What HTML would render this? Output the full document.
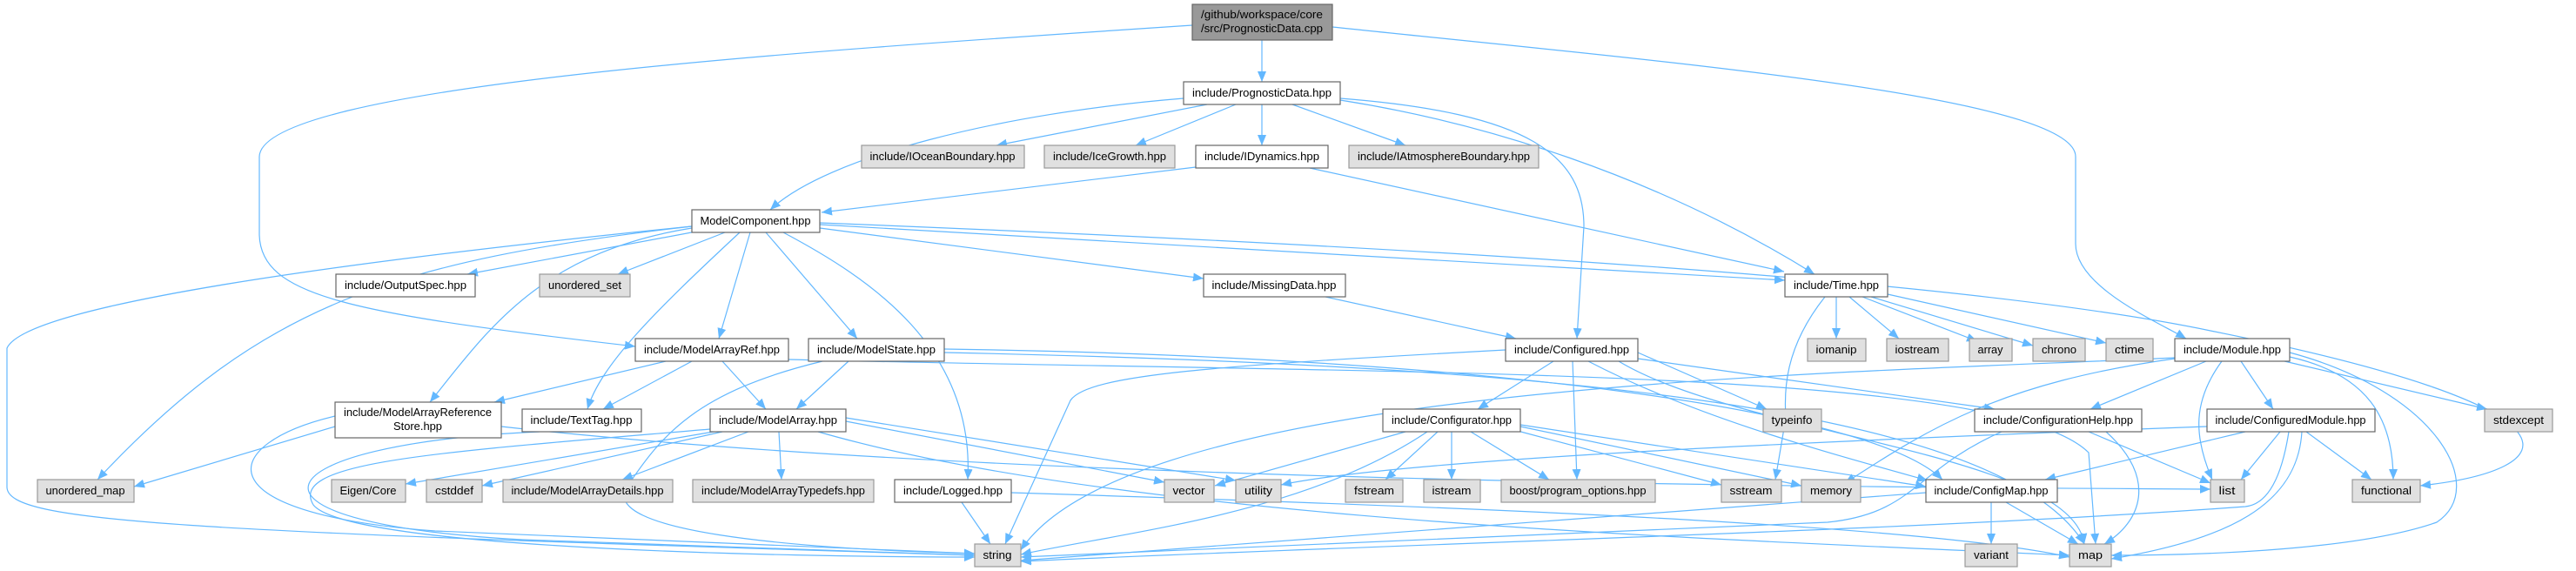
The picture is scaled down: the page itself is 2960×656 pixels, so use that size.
<!DOCTYPE html>
<html><head><meta charset="utf-8"><style>
html,body{margin:0;padding:0;background:#fff;}
svg{display:block;}
text{font-family:"Liberation Sans",Arial,sans-serif;font-size:12.5px;fill:#000;}
.w{fill:#fff;stroke:#666;stroke-width:1.2;}
.g{fill:#e0e0e0;stroke:#999;stroke-width:1.2;}
.d{fill:#999;stroke:#666;stroke-width:1.2;}
.e path{fill:none;stroke:#63b8ff;stroke-width:1.2;marker-end:url(#a);}
</style></head><body>
<svg width="2960" height="656" viewBox="0 0 2960 656" xmlns="http://www.w3.org/2000/svg">
<defs><marker id="a" markerUnits="userSpaceOnUse" markerWidth="12" markerHeight="10" refX="12" refY="5" orient="auto"><path d="M0,0 L12,5 L0,10 z" fill="#63b8ff"/></marker></defs>
<g class="e">
<path d="M1450 46 L1450 94"/>
<path d="M1370 29 C900 60,300 100,298 180 L298 270 C300 340,400 360,730 398"/>
<path d="M1531 31 C1900 70,2385 110,2385 180 L2385 280 C2385 330,2480 370,2512 389"/>
<path d="M1360 113 C1150 130,950 180,885 241"/>
<path d="M1387 120 L1145 167"/>
<path d="M1420 120 L1305 167"/>
<path d="M1450 120 L1450 167"/>
<path d="M1485 120 L1615 167"/>
<path d="M1540 113 C1760 130,1820 180,1820 260 L1812 389"/>
<path d="M1540 115 C1700 140,1900 200,2085 315"/>
<path d="M1374 192 L944 244"/>
<path d="M1505 193 L2050 312"/>
<path d="M800 266 L537 315"/>
<path d="M833 267 L710 315"/>
<path d="M862 267 L826 389"/>
<path d="M880 267 L985 389"/>
<path d="M850 267 C750 360,690 420,675 470"/>
<path d="M795 262 C620 290,560 380,494 462"/>
<path d="M795 260 C450 300,300 350,112 551"/>
<path d="M795 260 C400 300,30 350,8 400 L8 560 C10 600,200 610,1120 638"/>
<path d="M900 267 C1000 320,1120 400,1112 551"/>
<path d="M942 262 L1383 320"/>
<path d="M942 258 L2051 322"/>
<path d="M942 256 C1800 290,2300 330,2540 380 C2990 470,2950 540,2781 558"/>
<path d="M1523 341 L1742 389"/>
<path d="M765 415 L568 462"/>
<path d="M795 415 L693 470"/>
<path d="M830 415 L880 470"/>
<path d="M906 413 C1600 430,2300 420,2400 520 L2408 625"/>
<path d="M975 415 L915 470"/>
<path d="M945 415 C800 450,760 500,720 560 C690 610,900 630,1120 636"/>
<path d="M1085 401 C1700 410,2150 470,2232 551"/>
<path d="M1085 405 C1800 420,2300 470,2395 625"/>
<path d="M820 496 L466 556"/>
<path d="M830 496 L554 558"/>
<path d="M860 496 L715 551"/>
<path d="M895 496 L898 551"/>
<path d="M816 493 C500 520,330 530,360 580 C400 630,900 640,1120 640"/>
<path d="M972 484 L1338 554"/>
<path d="M972 480 L1420 552"/>
<path d="M940 496 C1300 600,2000 620,2378 638"/>
<path d="M576 490 C1200 560,2300 560,2540 562"/>
<path d="M385 490 L154 559"/>
<path d="M385 478 C250 510,230 590,500 610 L1120 636"/>
<path d="M620 496 C300 510,240 600,600 620 L1120 638"/>
<path d="M1105 577 L1138 625"/>
<path d="M1162 566 C1600 580,2200 600,2378 640"/>
<path d="M1785 415 L1698 470"/>
<path d="M1730 402 C1400 420,1250 430,1230 460 L1155 625"/>
<path d="M1807 415 L1812 551"/>
<path d="M1882 405 L2030 470"/>
<path d="M1882 412 L2292 470"/>
<path d="M1825 415 C1950 480,2100 520,2215 552"/>
<path d="M1860 415 C2000 500,2380 520,2395 625"/>
<path d="M1615 496 L1396 558"/>
<path d="M1652 496 L1592 551"/>
<path d="M1668 496 L1668 551"/>
<path d="M1690 496 L1780 551"/>
<path d="M1740 494 L1978 557"/>
<path d="M1747 490 L2070 558"/>
<path d="M1747 488 L2213 559"/>
<path d="M1640 496 C1500 590,1300 610,1173 637"/>
<path d="M2536 490 C2000 510,1600 530,1472 557"/>
<path d="M2110 341 L2110 389"/>
<path d="M2125 341 L2182 389"/>
<path d="M2140 341 L2272 392"/>
<path d="M2150 341 L2336 397"/>
<path d="M2169 338 L2420 394"/>
<path d="M2097 341 C2050 400,2050 450,2052 480 L2040 551"/>
<path d="M2535 415 L2402 470"/>
<path d="M2575 415 L2612 470"/>
<path d="M2553 415 C2520 460,2520 500,2542 551"/>
<path d="M2631 410 C2720 430,2750 480,2750 551"/>
<path d="M2631 405 C2800 450,2860 560,2800 600 C2700 635,2500 638,2426 638"/>
<path d="M2625 415 L2858 470"/>
<path d="M2499 412 C2300 440,2220 490,2120 555"/>
<path d="M2499 411 C2100 430,1300 440,1173 632"/>
<path d="M2400 496 L2540 555"/>
<path d="M2420 496 C2480 550,2460 600,2418 625"/>
<path d="M2300 496 C2200 540,2200 590,2100 600 L1173 640"/>
<path d="M2580 496 L2350 551"/>
<path d="M2620 496 L2575 551"/>
<path d="M2650 496 L2725 551"/>
<path d="M2645 496 C2640 580,2560 620,2426 642"/>
<path d="M2630 496 C2620 560,2600 580,2580 582 C2200 610,1600 625,1173 645"/>
<path d="M2288 577 L2288 625"/>
<path d="M2305 577 L2388 625"/>
<path d="M2213 566 L1173 644"/>
</g>
<g>
<rect class="d" x="1370" y="5" width="161" height="41"/>
<text x="1450" y="21" text-anchor="middle" textLength="140" lengthAdjust="spacingAndGlyphs">/github/workspace/core</text>
<text x="1450" y="37" text-anchor="middle" textLength="140" lengthAdjust="spacingAndGlyphs">/src/PrognosticData.cpp</text>
<rect class="w" x="1360" y="94" width="180" height="26"/><text x="1450" y="111" text-anchor="middle" textLength="160" lengthAdjust="spacingAndGlyphs">include/PrognosticData.hpp</text>
<rect class="g" x="990" y="167" width="187" height="26"/><text x="1083" y="184" text-anchor="middle" textLength="167" lengthAdjust="spacingAndGlyphs">include/IOceanBoundary.hpp</text>
<rect class="g" x="1200" y="167" width="150" height="26"/><text x="1275" y="184" text-anchor="middle" textLength="130" lengthAdjust="spacingAndGlyphs">include/IceGrowth.hpp</text>
<rect class="w" x="1374" y="167" width="152" height="26"/><text x="1450" y="184" text-anchor="middle" textLength="132" lengthAdjust="spacingAndGlyphs">include/IDynamics.hpp</text>
<rect class="g" x="1550" y="167" width="218" height="26"/><text x="1659" y="184" text-anchor="middle" textLength="198" lengthAdjust="spacingAndGlyphs">include/IAtmosphereBoundary.hpp</text>
<rect class="w" x="795" y="241" width="147" height="26"/><text x="868" y="258" text-anchor="middle" textLength="127" lengthAdjust="spacingAndGlyphs">ModelComponent.hpp</text>
<rect class="w" x="386" y="315" width="160" height="26"/><text x="466" y="332" text-anchor="middle" textLength="140" lengthAdjust="spacingAndGlyphs">include/OutputSpec.hpp</text>
<rect class="g" x="620" y="315" width="104" height="26"/><text x="672" y="332" text-anchor="middle" textLength="84" lengthAdjust="spacingAndGlyphs">unordered_set</text>
<rect class="w" x="1383" y="315" width="163" height="26"/><text x="1464" y="332" text-anchor="middle" textLength="143" lengthAdjust="spacingAndGlyphs">include/MissingData.hpp</text>
<rect class="w" x="2051" y="315" width="118" height="26"/><text x="2110" y="332" text-anchor="middle" textLength="98" lengthAdjust="spacingAndGlyphs">include/Time.hpp</text>
<rect class="w" x="730" y="389" width="176" height="26"/><text x="818" y="406" text-anchor="middle" textLength="156" lengthAdjust="spacingAndGlyphs">include/ModelArrayRef.hpp</text>
<rect class="w" x="929" y="389" width="156" height="26"/><text x="1007" y="406" text-anchor="middle" textLength="136" lengthAdjust="spacingAndGlyphs">include/ModelState.hpp</text>
<rect class="w" x="1730" y="389" width="152" height="26"/><text x="1806" y="406" text-anchor="middle" textLength="132" lengthAdjust="spacingAndGlyphs">include/Configured.hpp</text>
<rect class="g" x="2077" y="389" width="67" height="26"/><text x="2110" y="406" text-anchor="middle" textLength="47" lengthAdjust="spacingAndGlyphs">iomanip</text>
<rect class="g" x="2168" y="389" width="71" height="26"/><text x="2203" y="406" text-anchor="middle" textLength="51" lengthAdjust="spacingAndGlyphs">iostream</text>
<rect class="g" x="2263" y="389" width="49" height="26"/><text x="2287" y="406" text-anchor="middle" textLength="29" lengthAdjust="spacingAndGlyphs">array</text>
<rect class="g" x="2336" y="389" width="60" height="26"/><text x="2366" y="406" text-anchor="middle" textLength="40" lengthAdjust="spacingAndGlyphs">chrono</text>
<rect class="g" x="2420" y="389" width="54" height="26"/><text x="2447" y="406" text-anchor="middle" textLength="34" lengthAdjust="spacingAndGlyphs">ctime</text>
<rect class="w" x="2499" y="389" width="132" height="26"/><text x="2565" y="406" text-anchor="middle" textLength="112" lengthAdjust="spacingAndGlyphs">include/Module.hpp</text>
<rect class="w" x="385" y="462" width="191" height="41"/>
<text x="480" y="478" text-anchor="middle" textLength="170" lengthAdjust="spacingAndGlyphs">include/ModelArrayReference</text>
<text x="480" y="494" text-anchor="middle" textLength="56" lengthAdjust="spacingAndGlyphs">Store.hpp</text>
<rect class="w" x="600" y="470" width="137" height="26"/><text x="668" y="487" text-anchor="middle" textLength="117" lengthAdjust="spacingAndGlyphs">include/TextTag.hpp</text>
<rect class="w" x="816" y="470" width="156" height="26"/><text x="894" y="487" text-anchor="middle" textLength="136" lengthAdjust="spacingAndGlyphs">include/ModelArray.hpp</text>
<rect class="w" x="1589" y="470" width="158" height="26"/><text x="1668" y="487" text-anchor="middle" textLength="138" lengthAdjust="spacingAndGlyphs">include/Configurator.hpp</text>
<rect class="g" x="2026" y="470" width="67" height="26"/><text x="2059" y="487" text-anchor="middle" textLength="47" lengthAdjust="spacingAndGlyphs">typeinfo</text>
<rect class="w" x="2269" y="470" width="192" height="26"/><text x="2365" y="487" text-anchor="middle" textLength="172" lengthAdjust="spacingAndGlyphs">include/ConfigurationHelp.hpp</text>
<rect class="w" x="2536" y="470" width="193" height="26"/><text x="2632" y="487" text-anchor="middle" textLength="173" lengthAdjust="spacingAndGlyphs">include/ConfiguredModule.hpp</text>
<rect class="g" x="2855" y="470" width="78" height="26"/><text x="2894" y="487" text-anchor="middle" textLength="58" lengthAdjust="spacingAndGlyphs">stdexcept</text>
<rect class="g" x="43" y="551" width="111" height="26"/><text x="98" y="568" text-anchor="middle" textLength="91" lengthAdjust="spacingAndGlyphs">unordered_map</text>
<rect class="g" x="381" y="551" width="85" height="26"/><text x="423" y="568" text-anchor="middle" textLength="65" lengthAdjust="spacingAndGlyphs">Eigen/Core</text>
<rect class="g" x="490" y="551" width="64" height="26"/><text x="522" y="568" text-anchor="middle" textLength="44" lengthAdjust="spacingAndGlyphs">cstddef</text>
<rect class="g" x="578" y="551" width="195" height="26"/><text x="675" y="568" text-anchor="middle" textLength="175" lengthAdjust="spacingAndGlyphs">include/ModelArrayDetails.hpp</text>
<rect class="g" x="796" y="551" width="208" height="26"/><text x="900" y="568" text-anchor="middle" textLength="188" lengthAdjust="spacingAndGlyphs">include/ModelArrayTypedefs.hpp</text>
<rect class="w" x="1028" y="551" width="134" height="26"/><text x="1095" y="568" text-anchor="middle" textLength="114" lengthAdjust="spacingAndGlyphs">include/Logged.hpp</text>
<rect class="g" x="1338" y="551" width="57" height="26"/><text x="1366" y="568" text-anchor="middle" textLength="37" lengthAdjust="spacingAndGlyphs">vector</text>
<rect class="g" x="1420" y="551" width="52" height="26"/><text x="1446" y="568" text-anchor="middle" textLength="32" lengthAdjust="spacingAndGlyphs">utility</text>
<rect class="g" x="1546" y="551" width="66" height="26"/><text x="1579" y="568" text-anchor="middle" textLength="46" lengthAdjust="spacingAndGlyphs">fstream</text>
<rect class="g" x="1636" y="551" width="65" height="26"/><text x="1668" y="568" text-anchor="middle" textLength="45" lengthAdjust="spacingAndGlyphs">istream</text>
<rect class="g" x="1725" y="551" width="177" height="26"/><text x="1813" y="568" text-anchor="middle" textLength="157" lengthAdjust="spacingAndGlyphs">boost/program_options.hpp</text>
<rect class="g" x="1978" y="551" width="69" height="26"/><text x="2012" y="568" text-anchor="middle" textLength="49" lengthAdjust="spacingAndGlyphs">sstream</text>
<rect class="g" x="2070" y="551" width="68" height="26"/><text x="2104" y="568" text-anchor="middle" textLength="48" lengthAdjust="spacingAndGlyphs">memory</text>
<rect class="w" x="2213" y="551" width="151" height="26"/><text x="2288" y="568" text-anchor="middle" textLength="131" lengthAdjust="spacingAndGlyphs">include/ConfigMap.hpp</text>
<rect class="g" x="2540" y="551" width="39" height="26"/><text x="2559" y="568" text-anchor="middle" textLength="19" lengthAdjust="spacingAndGlyphs">list</text>
<rect class="g" x="2703" y="551" width="78" height="26"/><text x="2742" y="568" text-anchor="middle" textLength="58" lengthAdjust="spacingAndGlyphs">functional</text>
<rect class="g" x="1120" y="625" width="53" height="26"/><text x="1146" y="642" text-anchor="middle" textLength="33" lengthAdjust="spacingAndGlyphs">string</text>
<rect class="g" x="2258" y="625" width="60" height="26"/><text x="2288" y="642" text-anchor="middle" textLength="40" lengthAdjust="spacingAndGlyphs">variant</text>
<rect class="g" x="2378" y="625" width="48" height="26"/><text x="2402" y="642" text-anchor="middle" textLength="28" lengthAdjust="spacingAndGlyphs">map</text>
</g>
</svg>
</body></html>
